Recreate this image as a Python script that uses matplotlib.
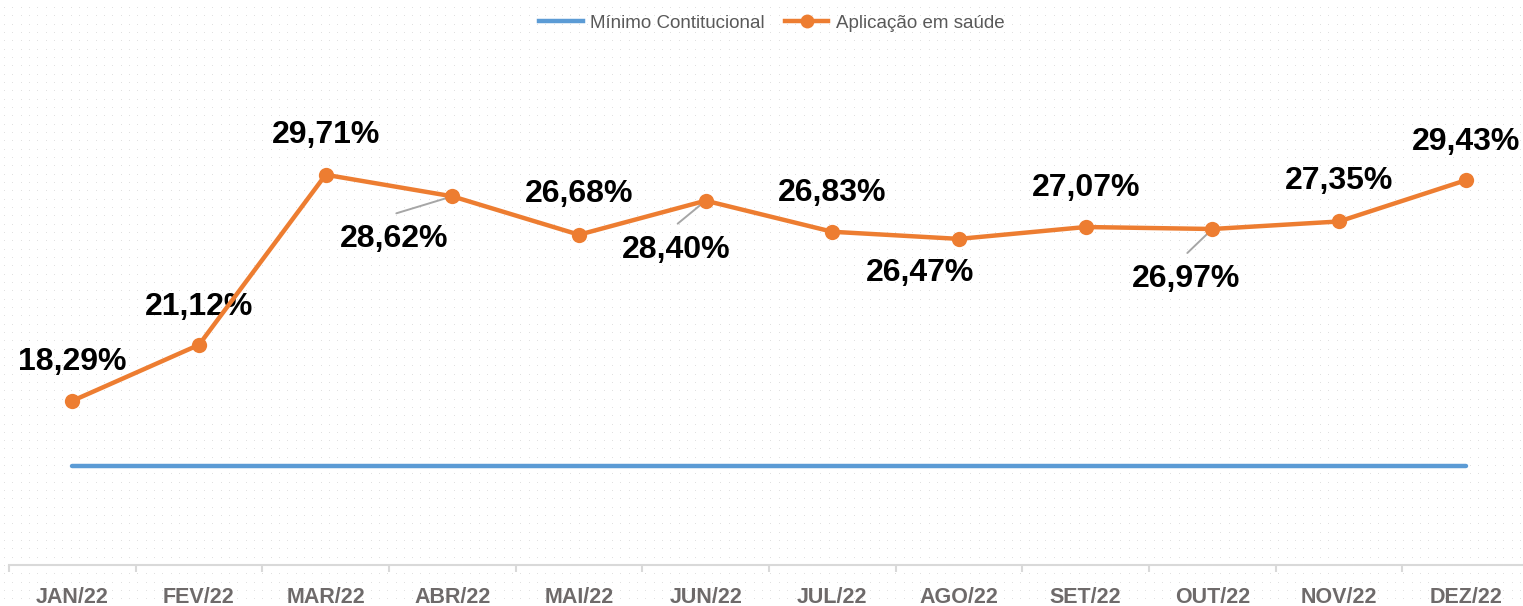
import numpy as np
import matplotlib
matplotlib.use("Agg")
import matplotlib.pyplot as plt
from matplotlib.lines import Line2D

months = ["JAN/22", "FEV/22", "MAR/22", "ABR/22", "MAI/22", "JUN/22",
          "JUL/22", "AGO/22", "SET/22", "OUT/22", "NOV/22", "DEZ/22"]
aplicacao = [18.29, 21.12, 29.71, 28.62, 26.68, 28.40, 26.83, 26.47, 27.07, 26.97, 27.35, 29.43]
minimo = [15, 15, 15, 15, 15, 15, 15, 15, 15, 15, 15, 15]
series_names = ["Mínimo Contitucional", "Aplicação em saúde"]

# label placement (offset in pixels) and optional leader start offsets
label_offsets = [(0, 39), (0, 38), (0, 40), (-58, -43), (0, 41), (-29, -49),
                 (0, 39), (-39, -34), (0, 39), (-26, -50), (0, 40), (0, 38)]
leaders = {3: (-56, -17), 5: (-28, -23), 9: (-25, -24)}

BLUE = "#5B9BD5"
ORANGE = "#ED7D31"
FONT = ["Liberation Sans", "DejaVu Sans"]
plt.rcParams["font.family"] = FONT

W, H = 1523, 606
fig = plt.figure(figsize=(W / 100, H / 100), dpi=100)
fig.patch.set_facecolor("white")

# dotted background pattern
bg = np.ones((H, W, 3))
xs = np.round(np.arange(4, W, 8.33)).astype(int)
ys = np.round(np.arange(7, H, 8.33)).astype(int)
for yy in ys:
    bg[yy, xs[xs < W]] = 0.88
fig.figimage(bg, xo=0, yo=0, zorder=0)

ax = fig.add_axes([9 / W, 41 / H, 1520 / W, 495 / H])
ax.set_zorder(2)
ax.patch.set_visible(False)
x = np.arange(len(months))

ax.plot(x, minimo, color=BLUE, lw=3.2, solid_capstyle="round", zorder=3)
ax.plot(x, aplicacao, color=ORANGE, lw=3.2, marker="o", markersize=11,
        markeredgewidth=0, zorder=5)

for i, v in enumerate(aplicacao):
    dx, dy = label_offsets[i]
    ax.annotate(f"{v:.2f}%".replace(".", ","), xy=(i, v), xytext=(dx, dy),
                textcoords="offset pixels", ha="center", va="center",
                fontsize=23, fontweight="bold", color="black", zorder=4)
    if i in leaders:
        lx, ly = leaders[i]
        ax.annotate("", xy=(i, v), xytext=(lx, ly), textcoords="offset pixels",
                    arrowprops=dict(arrowstyle="-", color="#A6A6A6", lw=1.4,
                                    shrinkA=0, shrinkB=0), zorder=4)

ax.set_xlim(-0.5, 11.5)
ax.set_ylim(10, 35)
for s in ["top", "left", "right"]:
    ax.spines[s].set_visible(False)
ax.spines["bottom"].set_color("#D9D9D9")
ax.spines["bottom"].set_linewidth(1.5)
ax.set_yticks([])
ax.set_xticks(x)
ax.set_xticklabels(months, fontsize=15.5, fontweight="bold", color="#6E6A6A")
ax.tick_params(axis="x", which="major", length=0, pad=16)
ax.set_xticks(np.arange(-0.5, 12, 1), minor=True)
ax.tick_params(axis="x", which="minor", length=5, width=1.5, color="#D9D9D9")

handles = [Line2D([], [], color=BLUE, lw=3.2),
           Line2D([], [], color=ORANGE, lw=3.2, marker="o", markersize=10, markeredgewidth=0)]
fig.legend(handles, series_names, loc="center", bbox_to_anchor=(772 / W, 1 - 23 / H),
           ncol=2, frameon=False, fontsize=13.5, labelcolor="#595959",
           handlelength=2.3, handletextpad=0.4, columnspacing=1.1)

fig.savefig("out.png", dpi=100, facecolor="white")
